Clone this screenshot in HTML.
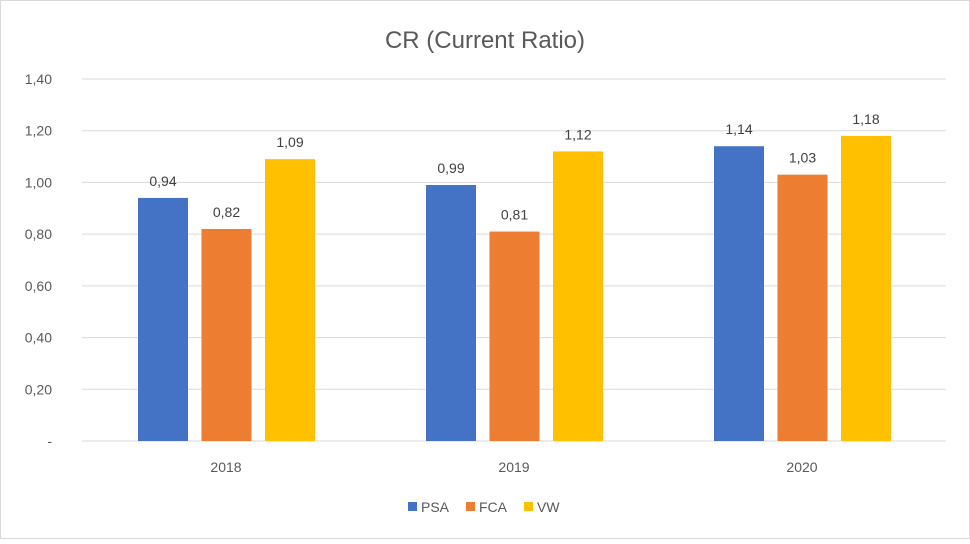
<!DOCTYPE html>
<html><head><meta charset="utf-8"><style>
body{margin:0;background:#fff;font-family:"Liberation Sans",sans-serif;}
</style></head><body>
<svg width="970" height="539" xmlns="http://www.w3.org/2000/svg">
<rect x="0.5" y="0.5" width="969" height="538" fill="#fff" stroke="#d9d9d9"/>
<text x="485" y="48" text-anchor="middle" font-size="24" fill="#595959">CR (Current Ratio)</text>
<g id="grid"></g><g id="bars"></g><g id="labels"></g><g id="legend"></g>
</svg>
<script>
const categories=["2018","2019","2020"];
const seriesNames=["PSA","FCA","VW"];
const psa=[0.94,0.99,1.14];
const fca=[0.82,0.81,1.03];
const vw=[1.09,1.12,1.18];
const ticks=[0,0.2,0.4,0.6,0.8,1.0,1.2,1.4];
const tickLabels=["-","0,20","0,40","0,60","0,80","1,00","1,20","1,40"];
const colors=["#4472c4","#ed7d31","#ffc000"];
const NS="http://www.w3.org/2000/svg";
const x0=82,x1=946,y0=441,yTop=79,vmax=1.4;
const y=v=>y0-(v/vmax)*(y0-yTop);
const bw=(x1-x0)/categories.length;
const xBar=(ci,si)=>x0+ci*bw+56+si*63.5;
function mk(t,a,p){const e=document.createElementNS(NS,t);for(const k in a)e.setAttribute(k,a[k]);p.appendChild(e);return e;}
const g=document.getElementById('grid');
ticks.forEach((t,i)=>{
 const l=mk('line',{x1:x0,x2:x1,y1:y(t),y2:y(t),stroke:'#d9d9d9'},g);
 
 
 const tx=mk('text',{x:52,y:y(t)+5,'text-anchor':'end','font-size':14,fill:'#595959'},g);
 tx.textContent=tickLabels[i];
 
 
});
categories.forEach((c,ci)=>{
 const tx=mk('text',{x:x0+ci*bw+bw/2,y:472,'text-anchor':'middle','font-size':14,fill:'#595959'},g);
 tx.textContent=c;
 
 
});
const b=document.getElementById('bars'),lb=document.getElementById('labels');
[psa,fca,vw].forEach((s,si)=>{
 s.forEach((v,ci)=>{
  const r=mk('rect',{x:xBar(ci,si),y:y(v),width:50,height:y0-y(v),fill:colors[si]},b);
  
  
  const t=mk('text',{x:xBar(ci,si)+25,y:y(v)-12,'text-anchor':'middle','font-size':14,fill:'#404040'},lb);
  t.textContent=v.toFixed(2).replace('.',',');
  
  
 });
});
const lg=document.getElementById('legend');
const lx=[408,466,524];
seriesNames.forEach((n,i)=>{
 const r=mk('rect',{x:lx[i],y:502,width:9,height:9,fill:colors[i]},lg);
 
 
 const t=mk('text',{x:lx[i]+13,y:512,'font-size':14,fill:'#595959'},lg);
 t.textContent=n;
 
 
});
</script>
</body></html>
